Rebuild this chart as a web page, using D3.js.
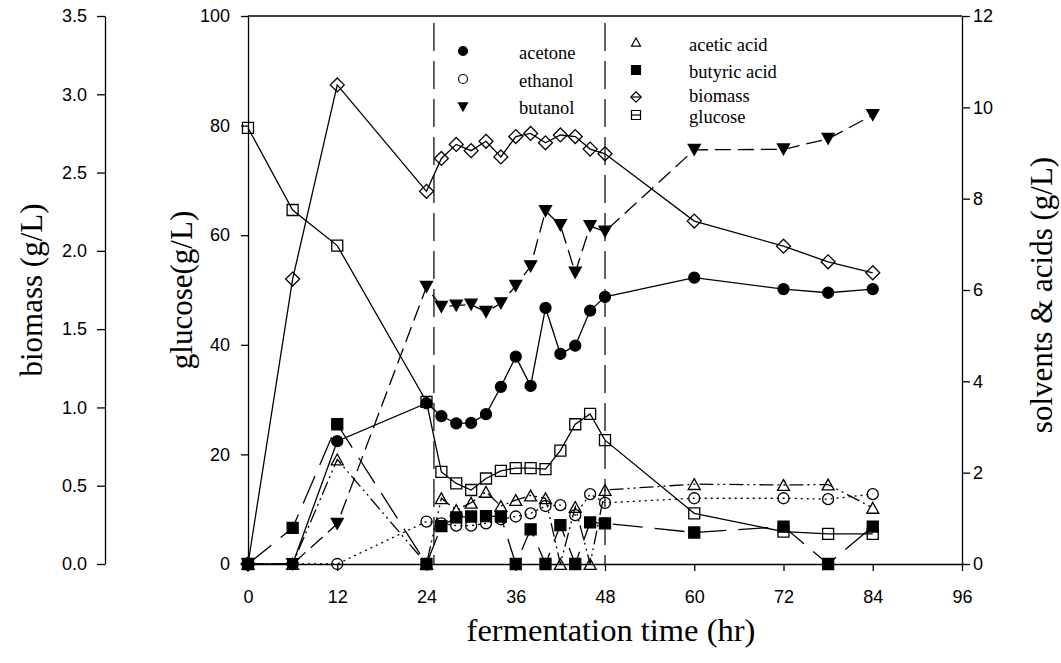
<!DOCTYPE html>
<html><head><meta charset="utf-8">
<script src="https://cdn.jsdelivr.net/npm/d3@7"></script>
<style>body{margin:0;background:#fff}</style>
</head><body>
<svg id="c" width="1061" height="663" xmlns="http://www.w3.org/2000/svg"></svg>
<script>
// ---------------- data ----------------
const time     = [0, 6, 12, 24, 26, 28, 30, 32, 34, 36, 38, 40, 42, 44, 46, 48, 60, 72, 78, 84];
const glucose  = [79.6, 64.6, 58.1, 29.6, 16.8, 14.7, 13.5, 15.6, 17.0, 17.5, 17.5, 17.3, 20.7, 25.5, 27.4, 22.6, 9.25, 5.9, 5.5, 5.5];
const biomass  = [0, 1.82, 3.06, 2.38, 2.59, 2.68, 2.64, 2.70, 2.60, 2.73, 2.75, 2.69, 2.74, 2.73, 2.65, 2.62, 2.19, 2.03, 1.93, 1.86];
const acetone  = [0, 0, 2.69, 3.52, 3.24, 3.08, 3.09, 3.28, 3.88, 4.54, 3.90, 5.61, 4.60, 4.78, 5.55, 5.85, 6.27, 6.02, 5.94, 6.02];
const ethanol  = [0, 0, 0, 0.93, 0.89, 0.84, 0.84, 0.89, 0.98, 1.04, 1.11, 1.27, 1.29, 1.07, 1.53, 1.34, 1.44, 1.44, 1.42, 1.53];
const butanol  = [0, 0, 0.88, 6.07, 5.63, 5.66, 5.68, 5.52, 5.71, 6.09, 6.52, 7.73, 7.42, 6.38, 7.40, 7.28, 9.07, 9.08, 9.31, 9.83];
const acetic   = [0, 0, 2.29, 0, 1.44, 1.18, 1.34, 1.58, 1.27, 1.40, 1.50, 1.44, 0, 1.25, 0, 1.62, 1.75, 1.73, 1.74, 1.23];
const butyric  = [0, 0.79, 3.06, 0, 0.83, 1.02, 1.04, 1.05, 1.04, 0, 0.76, 0, 0.85, 0, 0.91, 0.89, 0.69, 0.82, 0, 0.82];
const phaseMarks = [25, 48];

const xTicks = [0, 12, 24, 36, 48, 60, 72, 84, 96];
const glucoseTicks = [0, 20, 40, 60, 80, 100];
const biomassTicks = [0, 0.5, 1.0, 1.5, 2.0, 2.5, 3.0, 3.5];
const solventTicks = [0, 2, 4, 6, 8, 10, 12];

const xTitle = "fermentation time (hr)";
const biomassTitle = "biomass (g/L)";
const glucoseTitle = "glucose(g/L)";
const solventTitle = "solvents & acids (g/L)";

// ---------------- scales ----------------
const svg = d3.select("#c");
const x  = d3.scaleLinear().domain([0, 96]).range([248, 962]);
const yG = d3.scaleLinear().domain([0, 100]).range([564, 16]);
const yS = d3.scaleLinear().domain([0, 12]).range([564, 16]);
const yB = d3.scaleLinear().domain([0, 3.5]).range([564, 16]);

const SANS = "'Liberation Sans', Arial, sans-serif";
const SERIF = "'Liberation Serif', 'Times New Roman', serif";

function styleAxis(g) {
  g.select(".domain").attr("stroke", "#000").attr("stroke-width", 1.3);
  g.selectAll(".tick line").attr("stroke", "#000").attr("stroke-width", 1.3);
  g.selectAll(".tick text").attr("fill", "#000").style("font-family", SANS).style("font-size", "18px");
}

// frame top line
svg.append("line").attr("x1", x(0)).attr("x2", x(96)).attr("y1", yG(100)).attr("y2", yG(100))
  .attr("stroke", "#000").attr("stroke-width", 1.3);

svg.append("g").attr("transform", `translate(0,${yG(0)})`)
  .call(d3.axisBottom(x).tickValues(xTicks).tickSize(7).tickSizeOuter(0).tickPadding(19).tickFormat(d3.format("d")))
  .call(styleAxis);
svg.append("g").attr("transform", `translate(${x(0)},0)`)
  .call(d3.axisLeft(yG).tickValues(glucoseTicks).tickSize(7).tickSizeOuter(0).tickPadding(11).tickFormat(d3.format("d")))
  .call(styleAxis);
svg.append("g").attr("transform", `translate(${x(96)},0)`)
  .call(d3.axisRight(yS).tickValues(solventTicks).tickSize(8).tickSizeOuter(0).tickPadding(3).tickFormat(d3.format("d")))
  .call(styleAxis);
svg.append("g").attr("transform", `translate(105,0)`)
  .call(d3.axisLeft(yB).tickValues(biomassTicks).tickSize(8).tickSizeOuter(0).tickPadding(10).tickFormat(d3.format(".1f")))
  .call(styleAxis);

// titles
svg.append("text").attr("x", 611).attr("y", 641).attr("text-anchor", "middle")
  .style("font-family", SERIF).style("font-size", "32.5px").text(xTitle);
svg.append("text").attr("transform", "translate(42,290) rotate(-90)").attr("text-anchor", "middle")
  .style("font-family", SERIF).style("font-size", "31px").text(biomassTitle);
svg.append("text").attr("transform", "translate(192,290) rotate(-90)").attr("text-anchor", "middle")
  .style("font-family", SERIF).style("font-size", "31px").text(glucoseTitle);
svg.append("text").attr("transform", "translate(1052,295) rotate(-90)").attr("text-anchor", "middle")
  .style("font-family", SERIF).style("font-size", "31px").text(solventTitle);

// phase dashed lines
svg.selectAll(".phase").data(phaseMarks).enter().append("line")
  .attr("x1", d => x(d)).attr("x2", d => x(d)).attr("y1", yG(100) + 7).attr("y2", yG(0))
  .attr("stroke", "#000").attr("stroke-width", 1.2).attr("stroke-dasharray", "28,10");

// ---------------- symbols ----------------
function sym(type, s) {
  const h = s / 2;
  switch (type) {
    case "circle": return `M${-h},0A${h},${h} 0 1,0 ${h},0A${h},${h} 0 1,0 ${-h},0Z`;
    case "square": return `M${-h},${-h}H${h}V${h}H${-h}Z`;
    case "up": { const hh = s * 0.45; return `M0,${-hh}L${h},${hh}L${-h},${hh}Z`; }
    case "down": { const hh = s * 0.45; return `M0,${hh}L${h},${-hh}L${-h},${-hh}Z`; }
    case "diamond": { const d = s * 0.58; return `M0,${-d}L${d},0L0,${d}L${-d},0Z`; }
  }
}

const series = [
  { name: "glucose", vals: glucose, y: yG, sym: "square", fill: "none", dash: null, size: 11 },
  { name: "biomass", vals: biomass, y: yB, sym: "diamond", fill: "none", dash: null, size: 12 },
  { name: "acetone", vals: acetone, y: yS, sym: "circle", fill: "#000", dash: null, size: 11 },
  { name: "ethanol", vals: ethanol, y: yS, sym: "circle", fill: "none", dash: "2,4", size: 11 },
  { name: "butanol", vals: butanol, y: yS, sym: "down", fill: "#000", dash: "16,7", size: 12 },
  { name: "acetic acid", vals: acetic, y: yS, sym: "up", fill: "none", dash: "14,4,2,4,2,4", size: 12 },
  { name: "butyric acid", vals: butyric, y: yS, sym: "square", fill: "#000", dash: "30,12", size: 11 }
];

const gLines = svg.append("g");
const gMarks = svg.append("g");
series.forEach(s => {
  const pts = time.map((t, i) => [t, s.vals[i]]);
  const line = d3.line().x(d => x(d[0])).y(d => s.y(d[1]));
  gLines.append("path").attr("d", line(pts)).attr("fill", "none").attr("stroke", "#000")
    .attr("stroke-width", 1.3).attr("stroke-dasharray", s.dash);
});
series.forEach(s => {
  const pts = time.map((t, i) => [t, s.vals[i]]);
  gMarks.selectAll(null).data(pts).enter().append("path")
    .attr("transform", d => `translate(${x(d[0])},${s.y(d[1])})`)
    .attr("d", sym(s.sym, s.size))
    .attr("fill", s.fill).attr("stroke", "#000").attr("stroke-width", 1.3);
});

// ---------------- legend ----------------
const legendCols = [
  { sx: 463, tx: 519, items: [["acetone", 59], ["ethanol", 87], ["butanol", 114]] },
  { sx: 636, tx: 689, items: [["acetic acid", 51], ["butyric acid", 78], ["biomass", 102], ["glucose", 123]] }
];
const symY = { acetone: 51, ethanol: 79, butanol: 107, "acetic acid": 42, "butyric acid": 70, biomass: 97, glucose: 115 };
legendCols.forEach(col => {
  col.items.forEach(([name, by]) => {
    const s = series.find(d => d.name === name);
    const g = svg.append("g").attr("transform", `translate(${col.sx},${symY[name]})`);
    if (name === "biomass" || name === "glucose") {
      g.append("line").attr("x1", -5).attr("x2", 5).attr("stroke", "#000").attr("stroke-width", 1.2);
    }
    g.append("path").attr("d", sym(s.sym, 9)).attr("fill", s.fill).attr("stroke", "#000").attr("stroke-width", 1.2);
    svg.append("text").attr("x", col.tx).attr("y", by)
      .style("font-family", SERIF).style("font-size", "18.5px").text(name);
  });
});
</script>
</body></html>
